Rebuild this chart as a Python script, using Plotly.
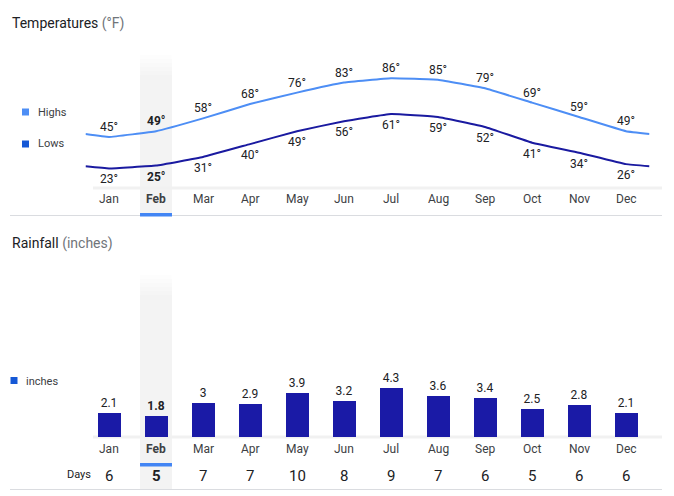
import plotly.graph_objects as go

months = ["Jan", "Feb", "Mar", "Apr", "May", "Jun", "Jul", "Aug", "Sep", "Oct", "Nov", "Dec"]
highs = [45, 49, 58, 68, 76, 83, 86, 85, 79, 69, 59, 49]
lows = [23, 25, 31, 40, 49, 56, 61, 59, 52, 41, 34, 26]
rain = [2.1, 1.8, 3, 2.9, 3.9, 3.2, 4.3, 3.6, 3.4, 2.5, 2.8, 2.1]
days = [6, 5, 7, 7, 10, 8, 9, 7, 6, 5, 6, 6]
selected = 1

W, H = 674, 496
FONT = "Roboto, Arial, sans-serif"
HI_C = "#4d8ef5"
LO_C = "#1a1aa0"
BAR_C = "#1a1aa6"
TXT = "#202124"
SUB = "#3c4043"
GREY = "#70757a"


def px(x):
    return x / W


def py(y):
    return 1 - y / H


def fmt(s, i):
    return f"<b>{s}</b>" if i == selected else s


idx = list(range(len(months)))
xe = [-0.5] + idx + [len(months) - 0.5]
hi_edge = (highs[-1] + highs[0]) / 2
lo_edge = (lows[-1] + lows[0]) / 2
hi_e = [hi_edge] + highs + [hi_edge]
lo_e = [lo_edge] + lows + [lo_edge]

fig = go.Figure()

# temperature lines
fig.add_trace(go.Scatter(x=xe, y=hi_e, mode="lines", line=dict(color=HI_C, width=2, shape="spline", smoothing=0.25),
                         hoverinfo="skip", showlegend=False, xaxis="x", yaxis="y"))
fig.add_trace(go.Scatter(x=xe, y=lo_e, mode="lines", line=dict(color=LO_C, width=2, shape="spline", smoothing=0.25),
                         hoverinfo="skip", showlegend=False, xaxis="x", yaxis="y"))

# rainfall bars
fig.add_trace(go.Bar(x=idx, y=rain, width=0.51, marker=dict(color=BAR_C, line=dict(width=0)),
                     text=[fmt(f"{v:g}", i) for i, v in enumerate(rain)], textposition="outside",
                     textfont=dict(size=12, color=TXT, family=FONT), cliponaxis=False,
                     showlegend=False, xaxis="x2", yaxis="y2"))

shapes = []
# highlighted month bands (fade at top)
x0, x1 = selected - 0.34, selected + 0.34
for top, bot, base in [(55, 215, 75), (275, 489, 295)]:
    shapes.append(dict(type="rect", xref="x", yref="paper", x0=x0, x1=x1, y0=py(bot), y1=py(base),
                       fillcolor="#f3f3f3", line=dict(width=0), layer="below"))
    steps = 5
    for k in range(steps):
        a = (k + 1) / (steps + 1)
        yy0 = base - (base - top) * k / steps
        yy1 = base - (base - top) * (k + 1) / steps
        shapes.append(dict(type="rect", xref="x", yref="paper", x0=x0, x1=x1, y0=py(yy0), y1=py(yy1),
                           fillcolor="#f3f3f3", opacity=1 - a, line=dict(width=0), layer="below"))
# baselines
for y in (188, 437):
    shapes.append(dict(type="line", xref="paper", yref="paper", x0=px(93), x1=px(662), y0=py(y), y1=py(y),
                       line=dict(color="#f1f1f1", width=3), layer="below"))
# separators
for y in (215.5, 489.5):
    shapes.append(dict(type="line", xref="paper", yref="paper", x0=px(10), x1=px(662), y0=py(y), y1=py(y),
                       line=dict(color="#dadce0", width=1)))
# selected underline
for y0, y1 in ((213, 216.5), (463, 466.5)):
    shapes.append(dict(type="rect", xref="x", yref="paper", x0=x0, x1=x1, y0=py(y1), y1=py(y0),
                       fillcolor="#4285f4", line=dict(width=0)))
# legend squares
for cx, cy, col in ((25.5, 112, HI_C), (25.5, 144, "#1558d6"), (14, 380.5, "#1558d6")):
    shapes.append(dict(type="rect", xref="paper", yref="paper", x0=px(cx - 3.5), x1=px(cx + 3.5),
                       y0=py(cy + 3.5), y1=py(cy - 3.5), fillcolor=col, line=dict(width=0)))

ann = []
# temperature value labels
for i in idx:
    ann.append(dict(text=fmt(f"{highs[i]}°", i), x=i, y=highs[i], xref="x", yref="y", yshift=10,
                    xanchor="center", yanchor="middle", showarrow=False,
                    font=dict(size=12, color=TXT, family=FONT)))
    ann.append(dict(text=fmt(f"{lows[i]}°", i), x=i, y=lows[i], xref="x", yref="y", yshift=-11,
                    xanchor="center", yanchor="middle", showarrow=False,
                    font=dict(size=12, color=TXT, family=FONT)))
ann.append(dict(text=f"<span style='color:{TXT}'>Temperatures</span> <span style='color:{GREY}'>(°F)</span>",
                x=px(10), y=py(23), xref="paper", yref="paper", xanchor="left", yanchor="middle",
                showarrow=False, font=dict(size=14, family=FONT)))
ann.append(dict(text=f"<span style='color:{TXT}'>Rainfall</span> <span style='color:{GREY}'>(inches)</span>",
                x=px(10), y=py(243), xref="paper", yref="paper", xanchor="left", yanchor="middle",
                showarrow=False, font=dict(size=14, family=FONT)))
for lx, ly, t in ((36, 112, "Highs"), (36, 144, "Lows"), (24, 381, "inches")):
    ann.append(dict(text=t, x=px(lx), y=py(ly), xref="paper", yref="paper", xanchor="left", yanchor="middle",
                    showarrow=False, font=dict(size=11, color=SUB, family=FONT)))
for i, m in enumerate(months):
    for yy in (199, 449):
        ann.append(dict(text=fmt(m, i), x=i, y=py(yy), xref="x", yref="paper", xanchor="center",
                        yanchor="middle", showarrow=False, font=dict(size=12, color=SUB, family=FONT)))
    ann.append(dict(text=fmt(str(days[i]), i), x=i, y=py(476), xref="x", yref="paper", xanchor="center",
                    yanchor="middle", showarrow=False, font=dict(size=15, color=TXT, family=FONT)))
ann.append(dict(text="Days", x=px(93), y=py(474), xref="paper", yref="paper", xanchor="right",
                yanchor="middle", showarrow=False, font=dict(size=11, color=TXT, family=FONT)))

xdom = [px(85.5), px(649.5)]
axis_off = dict(showgrid=False, zeroline=False, showticklabels=False, showline=False, ticks="", fixedrange=True)
fig.update_layout(
    width=W, height=H, margin=dict(l=0, r=0, t=0, b=0),
    paper_bgcolor="white", plot_bgcolor="rgba(0,0,0,0)",
    font=dict(family=FONT),
    xaxis=dict(domain=xdom, range=[-0.5, 11.5], anchor="y", **axis_off),
    yaxis=dict(domain=[py(188), py(50)], range=[9.3, 105.8], anchor="x", **axis_off),
    xaxis2=dict(domain=xdom, range=[-0.5, 11.5], anchor="y2", **axis_off),
    yaxis2=dict(domain=[py(437), py(280)], range=[0, 13.77], anchor="x2", **axis_off),
    shapes=shapes, annotations=ann, showlegend=False, bargap=0,
)

fig.write_html("out.html", config={"displayModeBar": False},
               post_script="document.body.style.margin='0px';document.body.style.overflow='hidden';")
